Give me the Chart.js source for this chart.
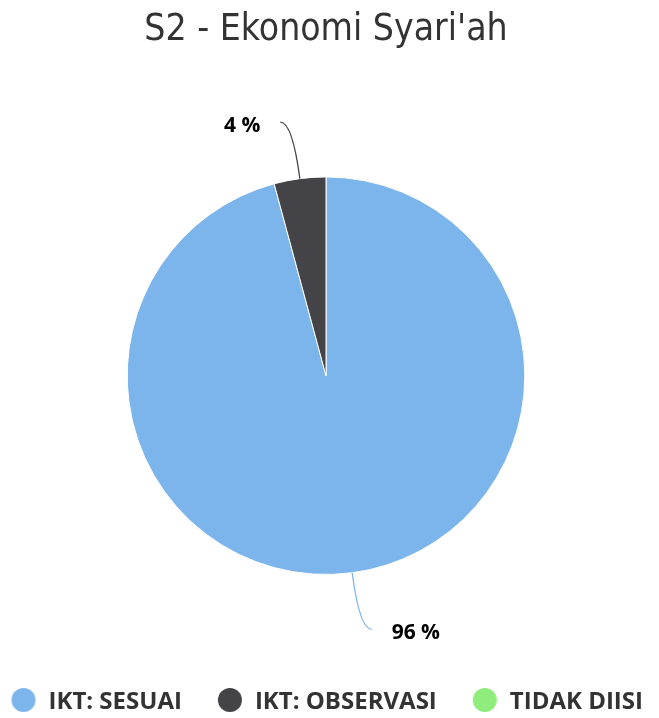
<!DOCTYPE html>
<html>
<head>
<meta charset="utf-8">
<script src="https://cdn.jsdelivr.net/npm/chart.js@4.4.1/dist/chart.umd.min.js"></script>
<style>
html,body{margin:0;padding:0;background:#ffffff;}
#wrap{width:659px;height:718px;position:relative;}
</style>
</head>
<body>
<div id="wrap"><canvas id="c"></canvas></div>
<script>
const chartTitle = "S2 - Ekonomi Syari'ah";
const categories = ['IKT: SESUAI', 'IKT: OBSERVASI', 'TIDAK DIISI'];
const values = [95.8, 4.2, 0];
const sliceColors = ['#7cb5ec', '#434348', '#90ed7d'];

// legend marker: a 24px dot at the right end of a wider transparent strip
function dotImage(color, w, h) {
  const cv = document.createElement('canvas');
  cv.width = w; cv.height = h;
  const g = cv.getContext('2d');
  g.fillStyle = color;
  g.beginPath();
  g.arc(w - 13, 12, 12, 0, Math.PI * 2);
  g.fill();
  return cv;
}

const pieLabels = {
  id: 'pieLabels',
  afterDatasetsDraw(chart) {
    const ctx = chart.ctx;
    const meta = chart.getDatasetMeta(0);
    const ds = chart.data.datasets[0];
    const total = ds.data.reduce((a, b) => a + b, 0);
    meta.data.forEach((arc, i) => {
      const v = ds.data[i];
      if (!v) return;
      const p = arc.getProps(['x', 'y', 'startAngle', 'endAngle', 'outerRadius'], true);
      const a = (p.startAngle + p.endAngle) / 2;
      const c = Math.cos(a), s = Math.sin(a);
      const sign = c >= 0 ? 1 : -1;
      const r = p.outerRadius;
      const x0 = p.x + r * c, y0 = p.y + r * s;
      const d = r + 57;
      const ey = p.y + d * s;
      const cx = p.x + d * c;
      const ex = p.x + sign * (d * Math.abs(c) + 12);
      ctx.save();
      ctx.strokeStyle = ds.backgroundColor[i];
      ctx.lineWidth = 1.3;
      ctx.beginPath();
      ctx.moveTo(x0, y0);
      ctx.quadraticCurveTo(cx, ey, ex, ey);
      ctx.stroke();
      ctx.fillStyle = '#000000';
      ctx.font = 'bold 21px "Open Sans", "DejaVu Sans"';
      ctx.textBaseline = 'middle';
      ctx.textAlign = sign > 0 ? 'left' : 'right';
      ctx.fillText(Math.round(v / total * 100) + ' %', ex + sign * 20, ey + 4);
      ctx.restore();
    });
  }
};

const baseLabels = Chart.overrides.doughnut.plugins.legend.labels.generateLabels;

new Chart(document.getElementById('c'), {
  type: 'pie',
  data: {
    labels: categories,
    datasets: [{
      data: values,
      backgroundColor: sliceColors,
      borderColor: '#ffffff',
      borderWidth: 1,
      hoverOffset: 0,
      offset: 0
    }]
  },
  options: {
    responsive: true,
    maintainAspectRatio: false,
    animation: false,
    layout: { padding: { top: 0, bottom: -6, left: -24.5, right: 7 } },
    plugins: {
      title: {
        display: true,
        fullSize: false,
        text: chartTitle,
        color: '#333333',
        font: { family: '"DejaVu Sans Condensed", "DejaVu Sans"', size: 37, weight: 'normal' },
        padding: { top: 8, bottom: 124 }
      },
      legend: {
        position: 'bottom',
        align: 'start',
        title: { display: true, text: '', padding: { top: 103, bottom: 0 }, font: { size: 10 } },
        labels: {
          usePointStyle: true,
          pointStyleWidth: 61,
          boxWidth: 24,
          boxHeight: 24,
          color: '#333333',
          padding: 0,
          font: { family: '"Open Sans"', size: 24, weight: 'bold' },
          generateLabels(chart) {
            const items = baseLabels(chart);
            items.forEach((it, i) => { it.pointStyle = dotImage(sliceColors[i], 61, 28); });
            return items;
          }
        }
      },
      tooltip: { enabled: false }
    }
  },
  plugins: [pieLabels]
});
</script>
</body>
</html>
